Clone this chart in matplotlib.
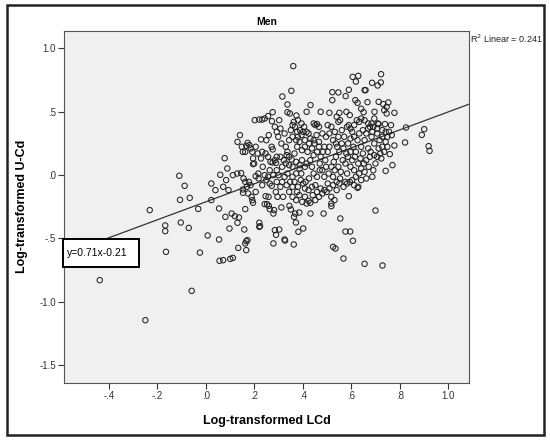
import numpy as np
import matplotlib
matplotlib.use("Agg")
import matplotlib.pyplot as plt
from matplotlib.patches import Rectangle

plt.rcParams["font.family"] = ["Liberation Sans", "DejaVu Sans"]

# (Log LCd, Log U-Cd), grouped by region
sparse_left = [
    (-0.438, -0.829), (-0.250, -1.145), (-0.059, -0.913), (-0.232, -0.276),
    (-0.168, -0.397), (-0.168, -0.442), (-0.165, -0.605), (-0.110, -0.005),
    (-0.088, -0.084), (-0.107, -0.195), (-0.067, -0.179), (-0.104, -0.374),
    (-0.071, -0.416), (-0.032, -0.266), (-0.025, -0.611), (0.007, -0.476),
    (0.022, -0.066), (0.022, -0.197), (0.039, -0.118), (0.054, -0.263),
    (0.054, -0.508), (0.059, 0.003), (0.056, -0.676), (0.071, -0.671),
    (0.077, 0.134), (0.080, -0.329), (0.071, -0.092), (0.083, -0.039),
    (0.088, 0.053), (0.093, -0.118), (0.097, -0.421), (0.100, -0.661),
    (0.106, -0.303), (0.111, -0.653), (0.111, 0.000), (0.119, -0.324),
    (0.129, 0.013), (0.130, -0.376), (0.133, -0.574), (0.136, -0.334),
    (0.145, 0.016), (0.152, -0.113), (0.153, -0.139), (0.155, -0.026),
    (0.158, -0.429), (0.162, -0.268), (0.162, -0.539), (0.166, -0.521),
    (0.166, -0.592), (0.171, -0.513),
]

upper = [
    (0.130, 0.263), (0.140, 0.316), (0.148, 0.224), (0.152, 0.184),
    (0.162, 0.184), (0.166, 0.232), (0.172, 0.255), (0.179, 0.237),
    (0.185, 0.211), (0.201, 0.434), (0.220, 0.439), (0.232, 0.439),
    (0.242, 0.447), (0.256, 0.466), (0.272, 0.426), (0.275, 0.497),
    (0.302, 0.434), (0.315, 0.621), (0.336, 0.558), (0.352, 0.666),
    (0.360, 0.861), (0.336, 0.497), (0.346, 0.487), (0.373, 0.471),
    (0.415, 0.500), (0.431, 0.553), (0.473, 0.500), (0.509, 0.492),
    (0.521, 0.655), (0.521, 0.592), (0.546, 0.653), (0.550, 0.492),
    (0.576, 0.624), (0.589, 0.674), (0.579, 0.500), (0.593, 0.474),
    (0.605, 0.776), (0.618, 0.739), (0.628, 0.784), (0.616, 0.592),
    (0.625, 0.571), (0.640, 0.524), (0.654, 0.671), (0.658, 0.671),
    (0.666, 0.576), (0.650, 0.497), (0.685, 0.729), (0.708, 0.708),
    (0.722, 0.797), (0.721, 0.732), (0.712, 0.579), (0.735, 0.513),
    (0.695, 0.500), (0.745, 0.539), (0.752, 0.574), (0.731, 0.561),
    (0.777, 0.492), (0.745, 0.487),
]

right_side = [
    (0.825, 0.376), (0.821, 0.258), (0.890, 0.318), (0.900, 0.363),
    (0.918, 0.229), (0.922, 0.192), (0.777, 0.234), (0.769, 0.079),
    (0.758, 0.166), (0.741, 0.034), (0.763, 0.395),
]

lower = [
    (0.699, -0.279), (0.728, -0.713), (0.654, -0.700), (0.567, -0.658),
    (0.606, -0.518), (0.595, -0.445), (0.575, -0.445), (0.554, -0.342),
    (0.524, -0.566), (0.534, -0.579), (0.589, -0.166), (0.628, -0.092),
    (0.625, -0.100), (0.485, -0.303), (0.517, -0.224), (0.517, -0.245),
    (0.530, -0.197), (0.362, -0.547), (0.381, -0.447), (0.401, -0.421),
    (0.324, -0.508), (0.326, -0.516), (0.302, -0.429), (0.284, -0.434),
    (0.289, -0.471), (0.278, -0.539), (0.220, -0.408), (0.220, -0.376),
    (0.223, -0.403), (0.371, -0.374), (0.363, -0.329), (0.368, -0.303),
    (0.385, -0.295), (0.431, -0.303), (0.397, -0.211), (0.415, -0.224),
    (0.423, -0.203), (0.430, -0.218), (0.385, -0.158), (0.376, -0.132),
    (0.350, -0.271), (0.344, -0.242), (0.311, -0.255), (0.318, -0.171),
    (0.295, -0.171), (0.288, -0.132), (0.278, -0.303), (0.281, -0.276),
    (0.263, -0.268), (0.259, -0.242), (0.242, -0.229), (0.252, -0.229),
    (0.246, -0.166), (0.258, -0.171), (0.271, -0.084), (0.232, -0.079),
    (0.174, -0.145), (0.188, -0.171), (0.191, -0.197), (0.194, -0.218),
    (0.205, -0.132), (0.169, -0.092), (0.177, -0.053), (0.184, -0.079),
    (0.162, -0.053),
]

core_left = [
    (0.194, 0.132), (0.194, 0.087), (0.205, -0.008), (0.242, 0.000),
    (0.256, -0.013), (0.217, -0.026), (0.216, 0.013), (0.234, 0.066),
    (0.227, 0.132), (0.232, 0.184), (0.246, 0.171), (0.256, 0.145),
    (0.259, 0.316), (0.271, 0.224), (0.275, 0.203), (0.275, 0.100),
    (0.266, 0.105), (0.284, 0.118), (0.289, 0.097), (0.292, 0.145),
    (0.284, 0.382), (0.292, 0.342), (0.298, 0.303), (0.307, 0.368),
    (0.311, 0.250), (0.324, 0.329), (0.329, 0.224), (0.336, 0.184),
    (0.343, 0.145), (0.350, 0.355), (0.357, 0.395), (0.362, 0.421),
    (0.367, 0.382), (0.376, 0.342), (0.388, 0.355), (0.394, 0.316),
    (0.401, 0.342), (0.408, 0.276), (0.423, 0.329), (0.431, 0.289),
    (0.199, 0.092), (0.213, 0.171), (0.205, 0.224), (0.249, 0.276),
    (0.227, 0.282), (0.191, 0.184), (0.292, -0.053), (0.278, 0.000),
    (0.263, 0.039), (0.249, -0.039), (0.263, -0.066),
]

core_mid = [
    (0.307, 0.145), (0.321, 0.118), (0.333, 0.158), (0.353, 0.124),
    (0.365, 0.171), (0.376, 0.224), (0.386, 0.263), (0.396, 0.197),
    (0.408, 0.224), (0.419, 0.184), (0.425, 0.250), (0.437, 0.211),
    (0.448, 0.250), (0.466, 0.224), (0.473, 0.145), (0.483, 0.184),
    (0.343, 0.276), (0.357, 0.303), (0.372, 0.276), (0.379, 0.303),
    (0.394, 0.408), (0.405, 0.382), (0.415, 0.342), (0.379, 0.434),
    (0.336, 0.013), (0.324, -0.013), (0.314, -0.053), (0.307, -0.092),
    (0.299, 0.000), (0.292, 0.039), (0.314, 0.066), (0.329, 0.092),
    (0.343, 0.079), (0.357, 0.066), (0.372, 0.105), (0.386, 0.079),
    (0.396, 0.118), (0.408, 0.066), (0.415, 0.092), (0.430, 0.118),
    (0.437, 0.066), (0.444, 0.158), (0.458, 0.184), (0.469, 0.092),
    (0.480, 0.039), (0.492, 0.118), (0.333, -0.079), (0.343, -0.132),
    (0.357, -0.171), (0.372, -0.197), (0.408, -0.171), (0.440, -0.158),
    (0.451, -0.197), (0.466, -0.171), (0.480, -0.145), (0.498, -0.132),
    (0.411, -0.053), (0.425, -0.026), (0.444, 0.013), (0.458, -0.013),
    (0.469, 0.039), (0.488, -0.013), (0.393, 0.013), (0.372, 0.013),
    (0.357, -0.013), (0.386, 0.053), (0.401, -0.066), (0.391, -0.039),
    (0.379, -0.092), (0.365, -0.053), (0.357, -0.092), (0.347, -0.053),
    (0.423, -0.118), (0.408, -0.105), (0.437, -0.092), (0.451, -0.079),
    (0.458, -0.132), (0.473, -0.105), (0.488, -0.118), (0.502, -0.066),
]

core_right = [
    (0.444, 0.408), (0.451, 0.395), (0.458, 0.403), (0.466, 0.382),
    (0.456, 0.316), (0.444, 0.276), (0.466, 0.263), (0.488, 0.224),
    (0.502, 0.395), (0.517, 0.382), (0.539, 0.461), (0.546, 0.421),
    (0.553, 0.434), (0.560, 0.355), (0.570, 0.303), (0.582, 0.382),
    (0.589, 0.395), (0.596, 0.368), (0.603, 0.342), (0.611, 0.395),
    (0.622, 0.434), (0.632, 0.421), (0.640, 0.447), (0.654, 0.434),
    (0.669, 0.408), (0.676, 0.382), (0.683, 0.408), (0.690, 0.382),
    (0.706, 0.368), (0.712, 0.403), (0.727, 0.355), (0.738, 0.403),
    (0.741, 0.342), (0.748, 0.303), (0.741, 0.263), (0.727, 0.224),
    (0.719, 0.171), (0.706, 0.145), (0.699, 0.092), (0.690, 0.039),
    (0.686, -0.013), (0.661, -0.026), (0.654, 0.026), (0.640, 0.053),
    (0.632, 0.013), (0.618, -0.013), (0.611, 0.039), (0.596, 0.066),
    (0.582, 0.013), (0.575, -0.053), (0.567, -0.092), (0.593, -0.053),
    (0.553, -0.026), (0.539, -0.053), (0.524, -0.079), (0.509, -0.105),
    (0.502, 0.184), (0.509, 0.224), (0.517, 0.066), (0.527, 0.105),
    (0.536, 0.145), (0.541, 0.224), (0.550, 0.184), (0.560, 0.250),
    (0.567, 0.211), (0.579, 0.171), (0.586, 0.250), (0.596, 0.289),
    (0.608, 0.224), (0.618, 0.184), (0.625, 0.276), (0.640, 0.224),
    (0.647, 0.171), (0.654, 0.276), (0.669, 0.211), (0.676, 0.145),
    (0.683, 0.303), (0.694, 0.250), (0.706, 0.329), (0.716, 0.276),
    (0.727, 0.303), (0.735, 0.184), (0.748, 0.224), (0.755, 0.342),
    (0.766, 0.316), (0.495, 0.066), (0.506, 0.013), (0.524, -0.013),
    (0.531, 0.039), (0.546, 0.066), (0.556, 0.026), (0.564, 0.118),
    (0.575, 0.092), (0.585, 0.145), (0.596, 0.184), (0.603, 0.118),
    (0.614, 0.145), (0.628, 0.092), (0.637, 0.132), (0.651, 0.092),
    (0.661, 0.118), (0.671, 0.066), (0.679, 0.184), (0.694, 0.158),
    (0.712, 0.211), (0.723, 0.132), (0.480, 0.329), (0.495, 0.303),
    (0.509, 0.329), (0.524, 0.276), (0.531, 0.342), (0.546, 0.303),
    (0.536, 0.250), (0.611, 0.303), (0.632, 0.329), (0.647, 0.355),
    (0.661, 0.329), (0.669, 0.368), (0.686, 0.342), (0.694, 0.447),
    (0.709, 0.408), (0.517, -0.171), (0.539, -0.118), (0.550, -0.066),
    (0.582, -0.066), (0.603, -0.039), (0.611, -0.079), (0.640, -0.039),
]

groups = [sparse_left, upper, right_side, lower, core_left, core_mid, core_right]

slope, intercept = 0.71, -0.21
r2 = 0.241

xticks = [-0.4, -0.2, 0.0, 0.2, 0.4, 0.6, 0.8, 1.0]
xticklabels = ["-.4", "-.2", ".0", ".2", ".4", ".6", ".8", "1.0"]
yticks = [1.0, 0.5, 0.0, -0.5, -1.0, -1.5]
yticklabels = ["1.0", ".5", ".0", "-.5", "-1.0", "-1.5"]

fig = plt.figure(figsize=(5.5, 4.41), dpi=100)
ax = fig.add_axes([0.117, 0.132, 0.735, 0.798])
ax.set_facecolor("#f0f0f0")

for g in groups:
    pts = np.array(g)
    ax.scatter(pts[:, 0], pts[:, 1], s=15, facecolors="none",
               edgecolors="#222222", linewidths=0.75, zorder=3)

xlim = (-0.584, 1.083)
ylim = (-1.639, 1.139)
xs = np.array(xlim)
ax.plot(xs, slope * xs + intercept, color="#333333", lw=0.9, zorder=2)
ax.set_xlim(xlim)
ax.set_ylim(ylim)

ax.set_xticks(xticks)
ax.set_xticklabels(xticklabels)
ax.set_yticks(yticks)
ax.set_yticklabels(yticklabels)
ax.tick_params(axis="both", labelsize=7, colors="#333333", length=4,
               width=0.8, direction="out", pad=2)
ax.tick_params(top=False, right=False)
for side in ax.spines.values():
    side.set_color("#555555")
    side.set_linewidth(0.8)

ax.set_xlabel("Log-transformed LCd", fontsize=9, fontweight="bold")
ax.set_ylabel("Log-transformed U-Cd", fontsize=9, fontweight="bold")
ax.xaxis.set_label_coords(0.50, -0.092)
ax.yaxis.set_label_coords(-0.09, 0.50)
ax.set_title("Men", fontsize=7.5, fontweight="bold", pad=4)

# equation label box sitting on the regression line
ax.add_patch(Rectangle((-0.588, -0.726), 0.313, 0.221, facecolor="white",
                       edgecolor="black", linewidth=1.4, zorder=6,
                       clip_on=False))
ax.text(-0.572, -0.616, "y=0.71x-0.21", fontsize=7.5, va="center", ha="left",
        zorder=7)

fig.text(0.855, 0.913, "R$^2$ Linear = 0.241", fontsize=6.5, ha="left",
         va="center", color="#222222")

fig.add_artist(Rectangle((0.013, 0.014), 0.976, 0.975, transform=fig.transFigure,
                         fill=False, edgecolor="#222222", linewidth=1.8))

fig.savefig("out.png", dpi=100)
